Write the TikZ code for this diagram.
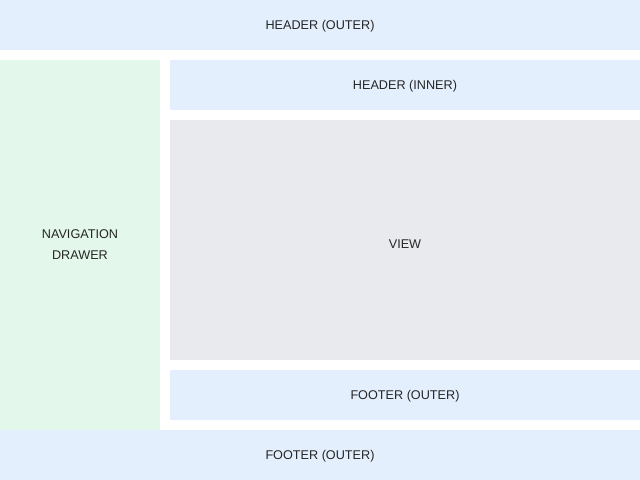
\documentclass[tikz,border=0pt]{standalone}
\usepackage{fontspec}
\setmainfont{Liberation Sans}
\definecolor{barblue}{HTML}{E3EFFD}
\definecolor{drawergreen}{HTML}{E3F7EA}
\definecolor{viewgray}{HTML}{E8EAED}
\begin{document}
\begin{tikzpicture}[x=0.025cm,y=-0.025cm,font=\fontsize{9}{15}\selectfont]
\tikzset{
  region/.style={inner sep=0pt, align=center, text=black!85, text depth=0pt},
  bar/.style={region, fill=barblue, minimum height=1.25cm}
}
\useasboundingbox[fill=white] (0,0) rectangle (640,480);
\node[bar, minimum width=16cm] (headerouter) at (320,25) {HEADER (OUTER)};
\node[region, fill=drawergreen, minimum width=4cm, minimum height=9.25cm] (drawer) at (80,245) {NAVIGATION\\DRAWER};
\node[bar, minimum width=11.75cm] (headerinner) at (405,85) {HEADER (INNER)};
\node[region, fill=viewgray, minimum width=11.75cm, minimum height=6cm, text height=12pt] (view) at (405,240) {VIEW};
\node[bar, minimum width=11.75cm] (footerinner) at (405,395) {FOOTER (OUTER)};
\node[bar, minimum width=16cm] (footerouter) at (320,455) {FOOTER (OUTER)};
\end{tikzpicture}
\end{document}
